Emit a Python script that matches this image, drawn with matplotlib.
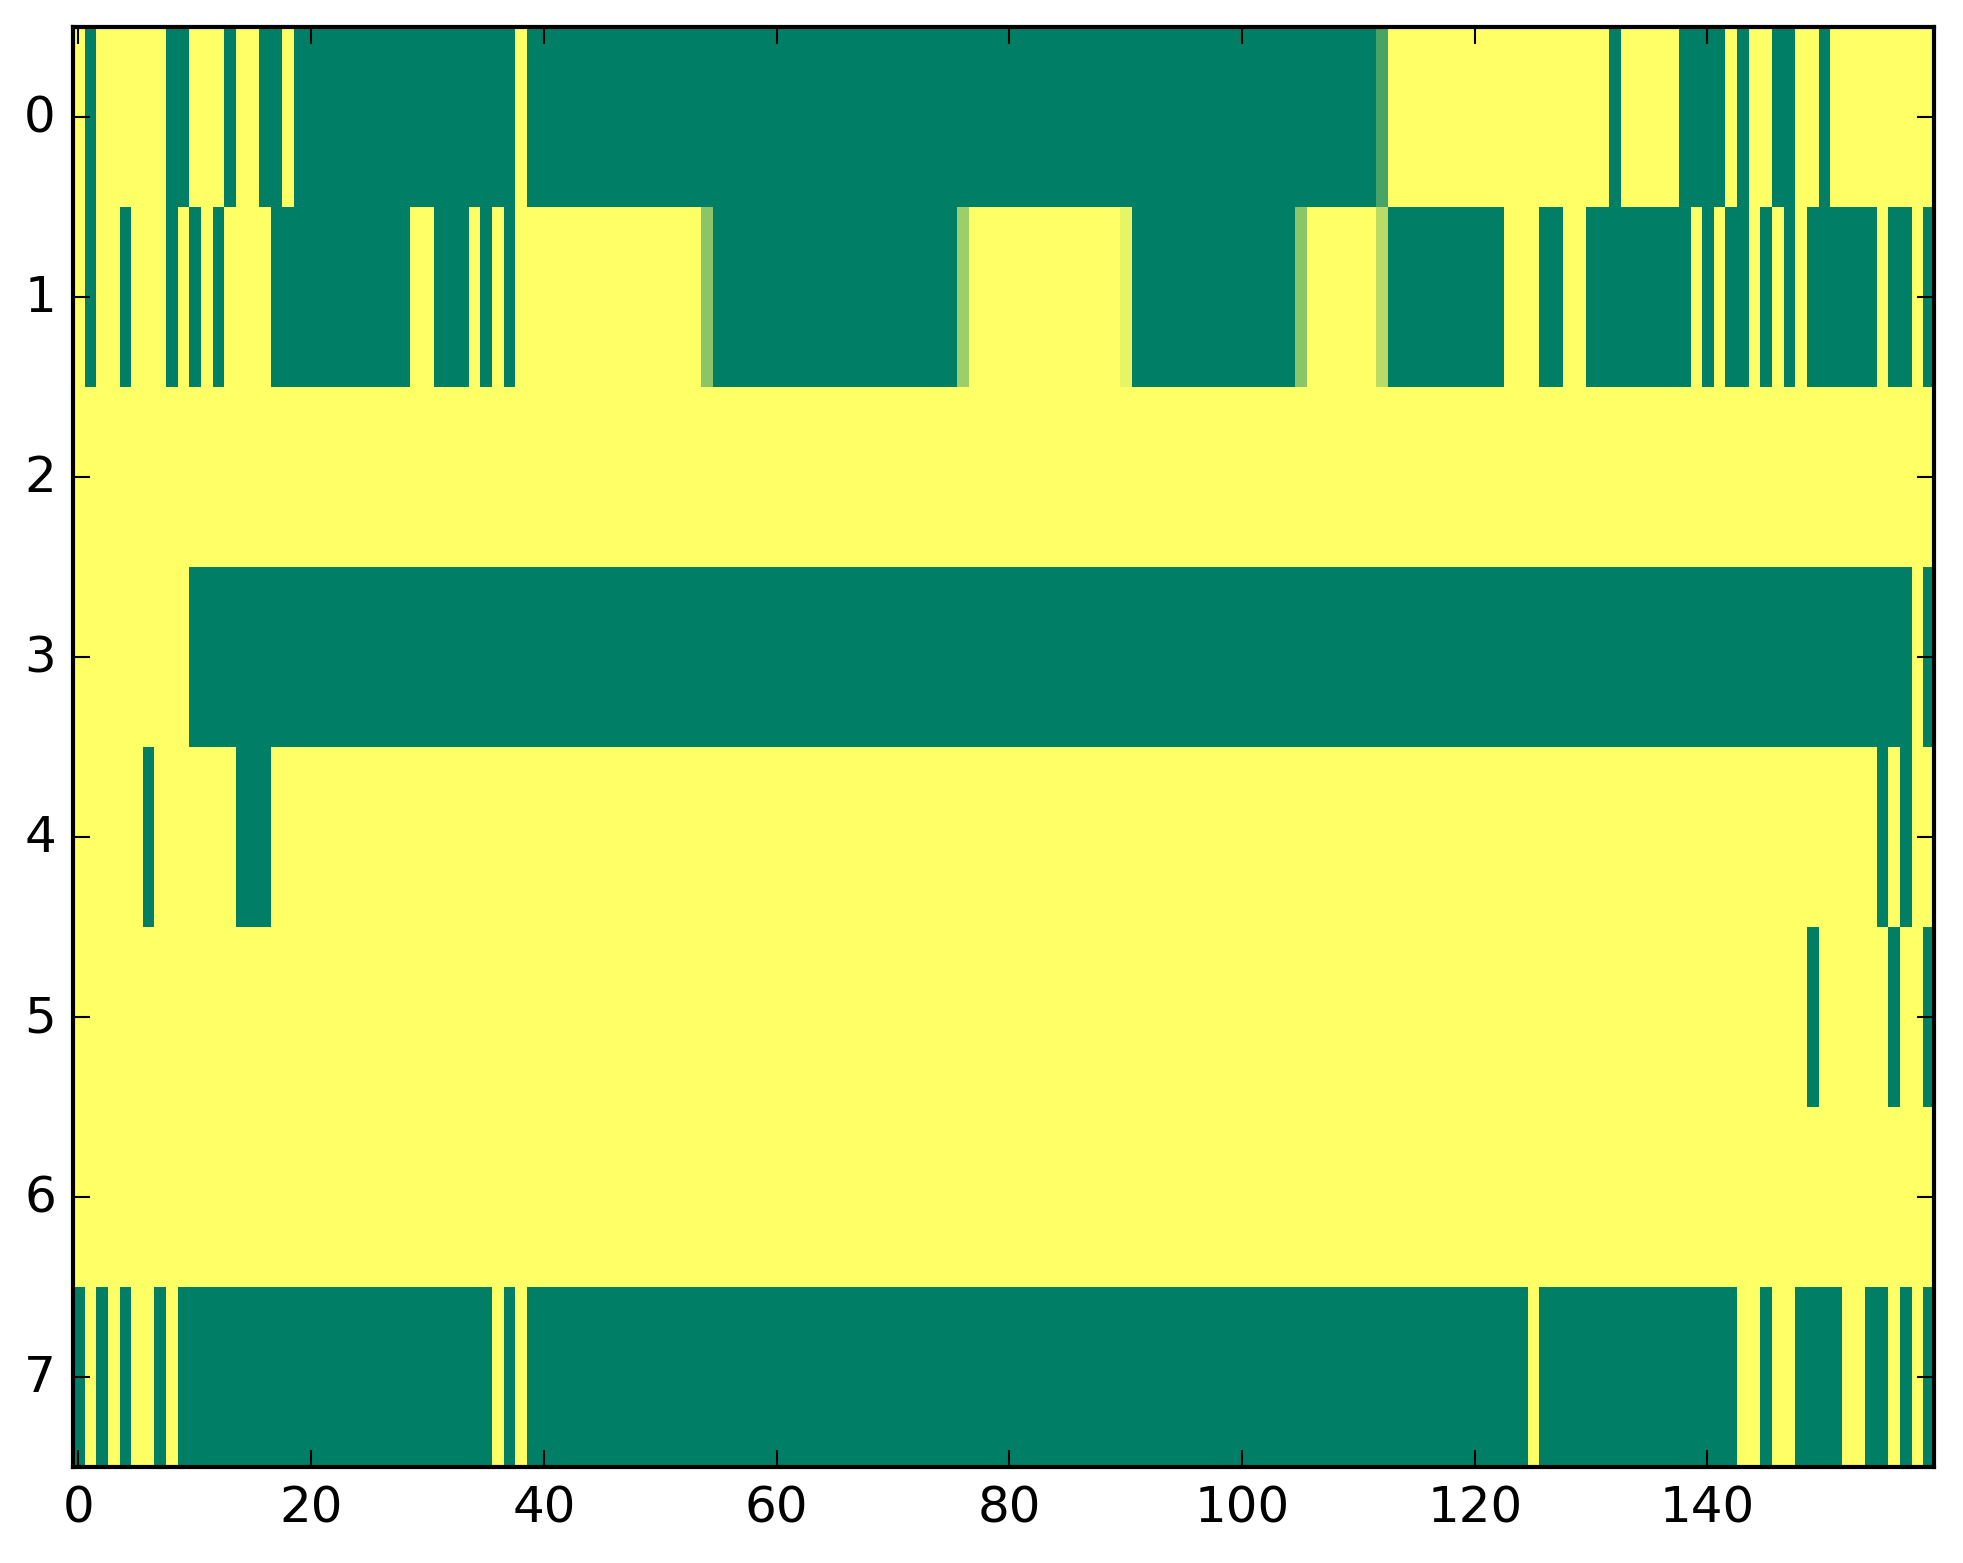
import numpy as np
import matplotlib
matplotlib.use("Agg")
from matplotlib import pyplot as plt

plt.style.use("classic")

n_rows = 8
n_cols = 160

# columns that are 0 (green) in each row, as (first, last) runs; everything else is 1 (yellow)
row0_zero = [(1, 1), (8, 9), (13, 13), (16, 17), (19, 37), (39, 111), (132, 132),
             (138, 141), (143, 143), (146, 147), (150, 150)]
row1_zero = [(1, 1), (4, 4), (8, 8), (10, 10), (12, 12), (17, 28), (31, 33), (35, 35),
             (37, 37), (55, 75), (91, 104), (113, 122), (126, 127), (130, 138),
             (140, 140), (142, 143), (145, 145), (147, 147), (149, 154), (156, 157),
             (159, 159)]
row2_zero = []
row3_zero = [(10, 157), (159, 159)]
row4_zero = [(6, 6), (14, 16), (155, 155), (157, 157)]
row5_zero = [(149, 149), (156, 156), (159, 159)]
row6_zero = []
row7_zero = [(0, 0), (2, 2), (4, 4), (7, 7), (9, 35), (37, 37), (39, 124), (126, 142),
             (145, 145), (148, 151), (154, 155), (157, 157), (159, 159)]

# cells with in-between values: (row, col, value)
partial = [(0, 112, 0.28),
           (1, 54, 0.55), (1, 76, 0.62), (1, 90, 0.91), (1, 105, 0.55), (1, 112, 0.73)]

rows = [row0_zero, row1_zero, row2_zero, row3_zero,
        row4_zero, row5_zero, row6_zero, row7_zero]

data = np.ones((n_rows, n_cols))
for r, runs in enumerate(rows):
    for a, b in runs:
        data[r, a:b + 1] = 0.0
for r, c, v in partial:
    data[r, c] = v

fig = plt.figure(figsize=(1963 / 300, 1564 / 300), dpi=300, facecolor="white")
ax = fig.add_axes([0.0370, 0.0612, 0.9484, 0.9207])
ax.imshow(data, cmap="summer", vmin=0, vmax=1, aspect="auto", interpolation="nearest")

ax.set_xticks(np.arange(0, 141, 20))
ax.set_yticks(np.arange(0, 8))
ax.set_xlim(-0.5, n_cols - 0.5)
ax.set_ylim(n_rows - 0.5, -0.5)
ax.tick_params(labelsize=12)

fig.savefig("out.png", dpi=300, facecolor="white")
